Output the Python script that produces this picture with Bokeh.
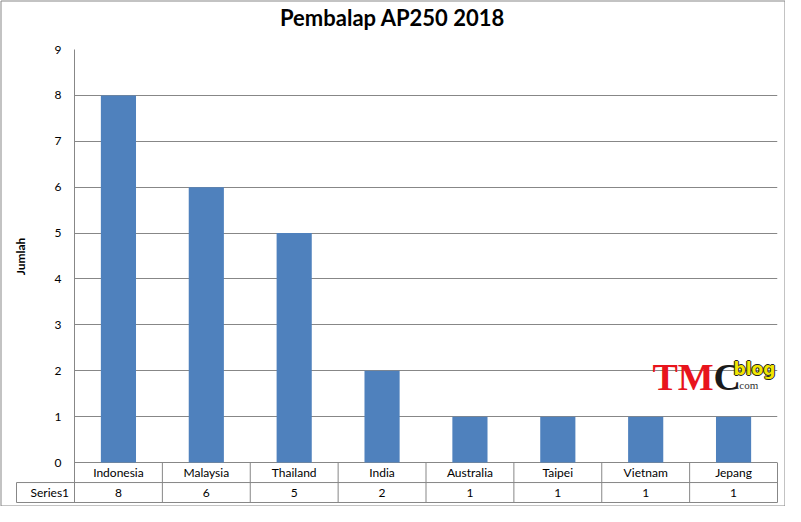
import math
from bokeh.plotting import figure
from bokeh.models import Range1d, FixedTicker
from bokeh.core.properties import value
from bokeh.embed import file_html
from bokeh.resources import INLINE

# ---- data ----
categories = ["Indonesia", "Malaysia", "Thailand", "India", "Australia", "Taipei", "Vietnam", "Jepang"]
values = [8, 6, 5, 2, 1, 1, 1, 1]
y_ticks = [0, 1, 2, 3, 4, 5, 6, 7, 8, 9]
series_name = "Series1"
chart_title = "Pembalap AP250 2018"
y_label = "Jumlah"

# ---- layout ----
W, H = 785, 506
BL, BR, BT, BB = 74, 8, 49, 4
FW = W - BL - BR
FH = H - BT - BB
YMIN, YMAX = -0.87, 9
ROW = 0.435
GRAY = "#878787"
BLUE = "#4F81BD"
FONT = value("Lato")

xu = FW / len(categories)
yu = FH / (YMAX - YMIN)
def sx(px):  # canvas px -> data x
    return (px - BL) / xu
def sy(py):  # canvas px -> data y
    return YMAX - (py - BT) / yu

p = figure(width=W, height=H, output_backend="svg", toolbar_location=None,
           x_range=Range1d(0, len(categories)), y_range=Range1d(YMIN, YMAX),
           min_border_left=BL, min_border_right=BR, min_border_top=BT, min_border_bottom=BB,
           x_axis_location=None)
p.outline_line_color = None
p.background_fill_color = "white"
p.border_fill_color = "white"

p.xgrid.visible = False
p.ygrid.ticker = FixedTicker(ticks=y_ticks)
p.ygrid.grid_line_color = GRAY
p.ygrid.grid_line_width = 1

ax = p.yaxis[0]
ax.ticker = FixedTicker(ticks=y_ticks)
ax.bounds = (0, 9)
ax.axis_line_color = None
ax.major_tick_line_color = None
ax.minor_tick_line_color = None
ax.major_tick_out = 0
ax.major_tick_in = 0
ax.major_label_standoff = 13
ax.major_label_text_font = "Lato"
ax.major_label_text_font_size = "12px"
ax.major_label_text_color = "black"

xs = [i + 0.5 for i in range(len(categories))]
p.vbar(x=xs, top=values, width=0.4, fill_color=BLUE, line_color=None)

# ---- title and axis title ----
p.text(x=[sx(392)], y=[sy(17)], text=[chart_title], text_align="center", text_baseline="middle",
       text_font=FONT, text_font_size="22px", text_font_style="bold", text_color="black", level="overlay")
p.text(x=[sx(20)], y=[sy(256)], text=[y_label], angle=math.pi / 2, text_align="center",
       text_baseline="middle", text_font=FONT, text_font_size="12px", text_font_style="bold",
       text_color="black", level="overlay")

# ---- data table ----
key_left = sx(16)
n = len(categories)
p.segment(x0=[0], y0=[YMIN], x1=[0], y1=[YMAX], line_color=GRAY, level="overlay")
p.segment(x0=list(range(1, n + 1)), y0=[YMIN] * n, x1=list(range(1, n + 1)), y1=[0] * n,
          line_color=GRAY, level="overlay")
p.segment(x0=[key_left, key_left, key_left], y0=[-ROW, YMIN, -ROW],
          x1=[n, n, key_left], y1=[-ROW, YMIN, YMIN], line_color=GRAY, level="overlay")
p.text(x=xs, y=[-ROW / 2] * n, text=categories, text_align="center", text_baseline="middle",
       text_font=FONT, text_font_size="12px", text_color="black", level="overlay")
p.text(x=xs, y=[-1.5 * ROW] * n, text=[str(v) for v in values], text_align="center",
       text_baseline="middle", text_font=FONT, text_font_size="12px", text_color="black", level="overlay")
p.scatter(x=[sx(25)], y=[-1.5 * ROW], marker="square", size=8, fill_color=BLUE, line_color=None,
          level="overlay")
p.text(x=[sx(30)], y=[-1.5 * ROW], text=[series_name], text_align="left", text_baseline="middle",
       text_font=FONT, text_font_size="12px", text_color="black", level="overlay")

# ---- outer chart border ----
p.quad(left=[sx(0.5)], right=[sx(W - 0.5)], top=[sy(0.5)], bottom=[sy(H - 0.5)],
       fill_color=None, line_color=GRAY, level="overlay")

# ---- watermark ----
SERIF = value("Liberation Serif")
p.text(x=[sx(652)], y=[sy(376)], text=["TM"], text_font=SERIF, text_font_size="38px",
       text_font_style="bold", text_color="#e8141c", text_baseline="middle", level="overlay")
p.text(x=[sx(713)], y=[sy(376)], text=["C"], text_font=SERIF, text_font_size="38px",
       text_font_style="bold", text_color="#1a1a1a", text_baseline="middle", level="overlay")
for dx, dy in [(-1, 0), (1, 0), (0, -1), (0, 1)]:
    p.text(x=[sx(733 + dx)], y=[sy(368 + dy)], text=["blog"], text_font=value("DejaVu Sans"),
           text_font_size="17px", text_font_style="bold", text_color="#222222",
           text_baseline="middle", level="overlay")
p.text(x=[sx(733)], y=[sy(368)], text=["blog"], text_font=value("DejaVu Sans"), text_font_size="17px",
       text_font_style="bold", text_color="#f2e600", text_baseline="middle", level="overlay")
p.text(x=[sx(736)], y=[sy(384)], text=[".com"], text_font=SERIF, text_font_size="11px",
       text_color="#333333", text_baseline="middle", level="overlay")

open("out.html", "w").write(file_html(p, INLINE))
